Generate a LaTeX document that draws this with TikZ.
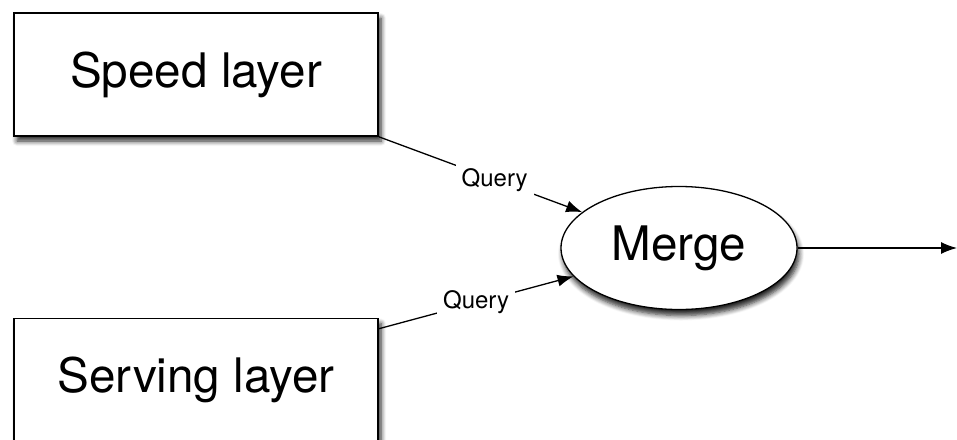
\documentclass[tikz,border=0pt]{standalone}
\usepackage{fontspec}
\setmainfont{TeX Gyre Heros}
\usetikzlibrary{shapes,positioning,shadows,shadows.blur,arrows.meta}

\begin{document}
\begin{tikzpicture}[
    x=1pt, y=-1pt,
    layer/.style = {rectangle, draw, line width=1.5pt, fill=white, minimum width=364pt, minimum height=123pt, font=\fontsize{47.6}{50}\selectfont, blur shadow={shadow xshift=3pt, shadow yshift=-5pt, shadow opacity=85, shadow blur steps=6, shadow blur radius=5pt}},
    merger/.style = {ellipse, draw, line width=1.3pt, fill=white, minimum width=236pt, minimum height=123pt, inner sep=0pt, font=\fontsize{47.6}{50}\selectfont, blur shadow={shadow xshift=2pt, shadow yshift=-6pt, shadow opacity=85, shadow blur steps=6, shadow blur radius=5pt}},
    query/.style = {-{Latex[length=16pt,width=12pt]}, line width=1.3pt},
    qlabel/.style = {fill=white, font=\fontsize{24}{26}\selectfont, inner sep=6pt}
    ]
    \useasboundingbox (0,0) rectangle (957,439);

    \node[layer] (speed) at (196,74.5) {Speed layer};
    \node[layer, below=181pt of speed] (serving) {Serving layer};
    \node[merger] (merge) at (679,248) {Merge};
    \coordinate (out) at (957,248);

    \draw[query] (speed.south east) -- node[qlabel, pos=0.57] {Query} (merge);
    \draw[query] ([yshift=-11pt]serving.north east) -- node[qlabel, pos=0.5] {Query} (merge);
    \draw[query] (merge) -- (out);
\end{tikzpicture}
\end{document}
